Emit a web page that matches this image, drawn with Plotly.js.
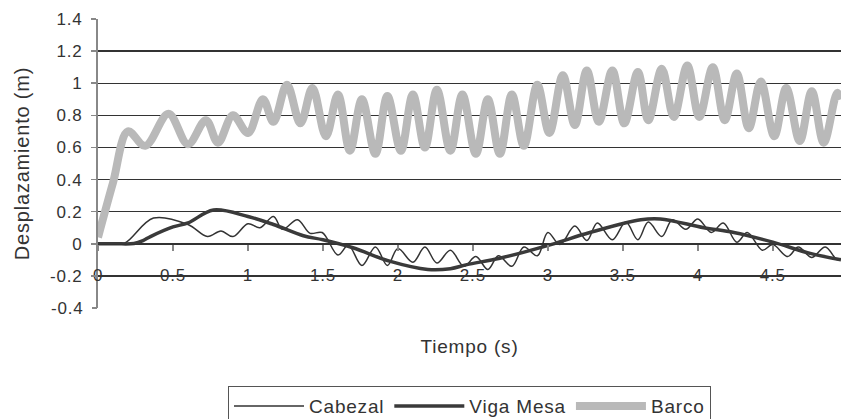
<!DOCTYPE html>
<html><head><meta charset="utf-8">
<script src="https://cdn.plot.ly/plotly-3.0.1.min.js"></script>
<style>html,body{margin:0;padding:0;background:#fff}#chart{width:841px;height:419px}svg text{letter-spacing:0.8px}</style>
</head><body><div id="chart"></div>
<script>
const tCabezal=[0,0.1,0.18,0.37,0.6,0.73,0.82,0.9,1.0,1.08,1.17,1.23,1.33,1.415,1.495,1.6,1.67,1.76,1.85,1.93,2.0,2.1,2.18,2.26,2.35,2.44,2.52,2.6,2.67,2.76,2.84,2.93,3.0,3.08,3.18,3.26,3.33,3.43,3.52,3.6,3.67,3.76,3.83,3.92,4.0,4.09,4.17,4.26,4.33,4.43,4.5,4.6,4.67,4.76,4.85,4.93,4.955];
const vCabezal=[0,0,0.005,0.16,0.12,0.045,0.08,0.045,0.125,0.10,0.17,0.09,0.15,0.065,0.07,-0.07,-0.01,-0.135,-0.02,-0.135,-0.03,-0.115,-0.02,-0.12,-0.04,-0.14,-0.08,-0.16,-0.075,-0.14,-0.02,-0.075,0.07,-0.005,0.11,0.02,0.13,0.025,0.135,0.025,0.135,0.045,0.15,0.09,0.155,0.07,0.13,0.01,0.07,-0.04,-0.005,-0.08,-0.02,-0.085,-0.02,-0.1,-0.09];

const tViga=[0,0.12,0.24,0.3,0.35,0.5,0.6,0.77,1.0,1.17,1.37,1.5,1.7,1.95,2.2,2.35,2.46,2.68,3.02,3.28,3.62,3.75,4.04,4.24,4.5,4.75,4.955];
const vViga=[0,0,0.002,0.02,0.045,0.105,0.13,0.21,0.17,0.12,0.05,0.025,-0.025,-0.11,-0.16,-0.155,-0.13,-0.09,-0.005,0.07,0.15,0.155,0.1,0.07,0.01,-0.06,-0.1];

const tBarco=[0,0.1,0.2,0.315,0.47,0.60,0.72,0.80,0.90,1.0,1.10,1.17,1.26,1.35,1.43,1.52,1.60,1.68,1.76,1.85,1.93,2.02,2.10,2.18,2.26,2.35,2.43,2.52,2.60,2.68,2.76,2.84,2.93,3.01,3.10,3.18,3.26,3.34,3.43,3.51,3.60,3.67,3.76,3.84,3.93,4.01,4.10,4.18,4.26,4.34,4.42,4.51,4.59,4.68,4.76,4.84,4.93,4.955];
const vBarco=[0.04,0.38,0.70,0.61,0.81,0.62,0.77,0.63,0.80,0.69,0.90,0.76,0.99,0.75,0.97,0.67,0.93,0.58,0.90,0.56,0.92,0.58,0.93,0.60,0.96,0.58,0.93,0.56,0.90,0.56,0.93,0.61,0.99,0.69,1.05,0.74,1.08,0.76,1.08,0.75,1.07,0.77,1.09,0.79,1.11,0.79,1.10,0.77,1.06,0.72,1.01,0.67,0.97,0.64,0.95,0.63,0.94,0.90];

const yTickVals=[-0.2,0,0.2,0.4,0.6,0.8,1,1.2,1.4];
const yTickText=['-0.2','0','0.2','0.4','0.6','0.8','1','1.2','1.4'];
const yBottomVals=[-0.4];
const yBottomText=['-0.4'];
const xTickVals=[0,0.5,1,1.5,2,2.5,3,3.5,4,4.5];
const xTickText=['0','0.5','1','1.5','2','2.5','3','3.5','4','4.5'];

const FONT='"Liberation Sans", Arial, sans-serif';
const traces=[
 {x:tCabezal,y:vCabezal,name:'Cabezal',mode:'lines',line:{color:'#333333',width:1.5,shape:'spline'}},
 {x:tViga,y:vViga,name:'Viga Mesa',mode:'lines',line:{color:'#3a3a3a',width:3.5,shape:'spline'}},
 {x:tBarco,y:vBarco,name:'Barco',mode:'lines',yaxis:'y2',line:{color:'#b9b9b9',width:8,shape:'spline'}}
];
const tickFont={family:FONT,size:17,color:'#333'};
const layout={
 width:841,height:419,
 margin:{l:98,r:0,t:19,b:111,autoexpand:false},
 paper_bgcolor:'#fff',plot_bgcolor:'#fff',
 font:{family:FONT,size:17,color:'#333'},
 showlegend:true,
 xaxis:{range:[0,4.955],anchor:'free',position:0.4/1.8,automargin:false,
   tickvals:xTickVals,ticktext:xTickText,showgrid:false,zeroline:false,tickfont:tickFont,
   showline:true,linecolor:'#333',linewidth:1.3,
   ticks:'outside',ticklen:6,tickcolor:'#888',tickwidth:1.5,ticklabelstandoff:10,
   title:{text:'Tiempo (s)',standoff:55,font:{size:19}}},
 yaxis:{range:[-0.4,1.4],tickvals:yTickVals,ticktext:yTickText,tickfont:tickFont,automargin:false,
   showgrid:true,gridcolor:'#333',gridwidth:1.3,zeroline:false,ticklabelstandoff:5,
   showline:true,linecolor:'#888',linewidth:2,ticks:'outside',ticklen:5,tickcolor:'#888',tickwidth:1.5,
   title:{text:'Desplazamiento (m)',font:{size:20},standoff:15}},
 yaxis2:{range:[-0.4,1.4],overlaying:'y',anchor:'x',side:'left',tickvals:yBottomVals,ticktext:yBottomText,tickfont:tickFont,automargin:false,
   showgrid:false,zeroline:false,showline:false,ticks:'outside',ticklen:5,tickcolor:'#888',tickwidth:1.5,ticklabelstandoff:5},
 legend:{orientation:'h',x:0.5,xanchor:'center',y:-0.27,yanchor:'top',
   bordercolor:'#555',borderwidth:1,bgcolor:'#fff',font:{size:19},itemwidth:70,traceorder:'normal'}
};
Plotly.newPlot('chart',traces,layout,{staticPlot:true,displayModeBar:false});
</script></body></html>
